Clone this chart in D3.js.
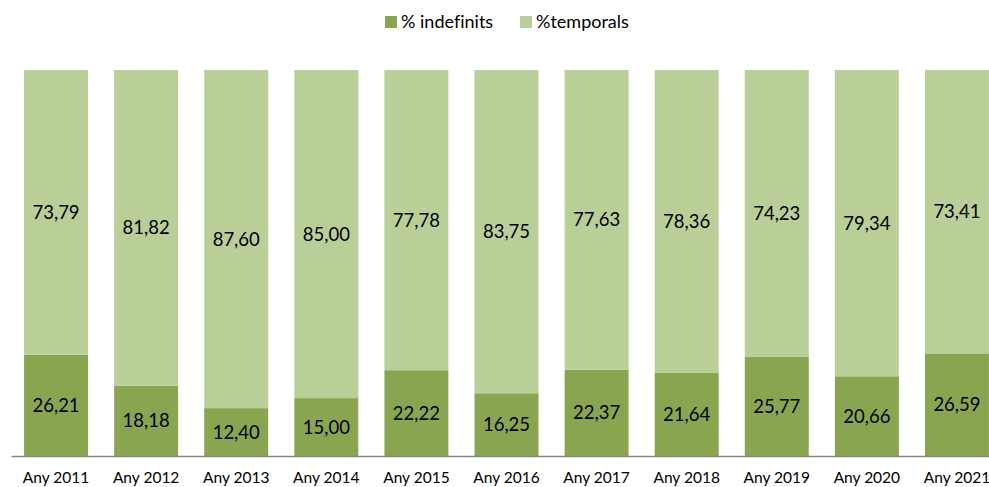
<!DOCTYPE html>
<html>
<head>
<meta charset="utf-8">
<script src="https://cdn.jsdelivr.net/npm/d3@7"></script>
<style>
  body { margin: 0; background: #fff; }
  text { font-family: Lato, "Open Sans", sans-serif; font-variant-ligatures: none; }
</style>
</head>
<body>
<script>
var years = ["Any 2011", "Any 2012", "Any 2013", "Any 2014", "Any 2015", "Any 2016", "Any 2017", "Any 2018", "Any 2019", "Any 2020", "Any 2021"];
var indefinits = [26.21, 18.18, 12.40, 15.00, 22.22, 16.25, 22.37, 21.64, 25.77, 20.66, 26.59];
var temporals = [73.79, 81.82, 87.60, 85.00, 77.78, 83.75, 77.63, 78.36, 74.23, 79.34, 73.41];
var seriesNames = ["% indefinits", "%temporals"];
var colors = ["#8aa54f", "#bacf97"];

var svg = d3.select("body")
    .append("svg")
    .attr("width", 989)
    .attr("height", 487);

var x = d3.scaleBand()
    .domain(years)
    .range([11, 1002])
    .paddingInner(0.29)
    .paddingOuter(0.145);

var y = d3.scaleLinear()
    .domain([0, 100])
    .range([456, 70]);

var fmt = function(v) { return v.toFixed(2).replace(".", ","); };

var rows = years.map(function(d, i) {
    return { year: d, a: indefinits[i], b: temporals[i] };
});

// bottom segment
svg.selectAll("rect.ind")
    .data(rows)
    .enter()
    .append("rect")
    .attr("class", "ind")
    .attr("x", function(d) { return x(d.year); })
    .attr("y", function(d) { return y(d.a); })
    .attr("width", x.bandwidth())
    .attr("height", function(d) { return y(0) - y(d.a); })
    .attr("fill", colors[0]);

// top segment
svg.selectAll("rect.tmp")
    .data(rows)
    .enter()
    .append("rect")
    .attr("class", "tmp")
    .attr("x", function(d) { return x(d.year); })
    .attr("y", function(d) { return y(d.a + d.b); })
    .attr("width", x.bandwidth())
    .attr("height", function(d) { return y(d.a) - y(d.a + d.b); })
    .attr("fill", colors[1]);

// value labels
svg.selectAll("text.lblA")
    .data(rows)
    .enter()
    .append("text")
    .attr("class", "lblA")
    .attr("x", function(d) { return x(d.year) + x.bandwidth() / 2; })
    .attr("y", function(d) { return y(d.a / 2); })
    .attr("dy", "0.35em")
    .attr("text-anchor", "middle")
    .attr("font-size", "18.5px")
    .attr("fill", "#000")
    .text(function(d) { return fmt(d.a); });

svg.selectAll("text.lblB")
    .data(rows)
    .enter()
    .append("text")
    .attr("class", "lblB")
    .attr("x", function(d) { return x(d.year) + x.bandwidth() / 2; })
    .attr("y", function(d) { return y(d.a + d.b / 2); })
    .attr("dy", "0.35em")
    .attr("text-anchor", "middle")
    .attr("font-size", "18.5px")
    .attr("fill", "#000")
    .text(function(d) { return fmt(d.b); });

// x axis
var xAxis = svg.append("g")
    .attr("transform", "translate(0,456)")
    .call(d3.axisBottom(x).tickSize(0).tickPadding(16));
xAxis.select(".domain").attr("stroke", "#868686").attr("stroke-width", 1.5);
xAxis.selectAll("text")
    .attr("font-family", "Lato, sans-serif")
    .attr("font-size", "15.5px")
    .attr("fill", "#000");

// legend
var legend = svg.append("g");
var legX = [385, 520];
seriesNames.forEach(function(name, i) {
    legend.append("rect")
        .attr("x", legX[i])
        .attr("y", 16)
        .attr("width", 12)
        .attr("height", 12)
        .attr("fill", colors[i]);
    legend.append("text")
        .attr("x", legX[i] + 16)
        .attr("y", 22)
        .attr("dy", "0.35em")
        .attr("font-size", "18px")
        .attr("fill", "#000")
        .text(name);
});
</script>
</body>
</html>
